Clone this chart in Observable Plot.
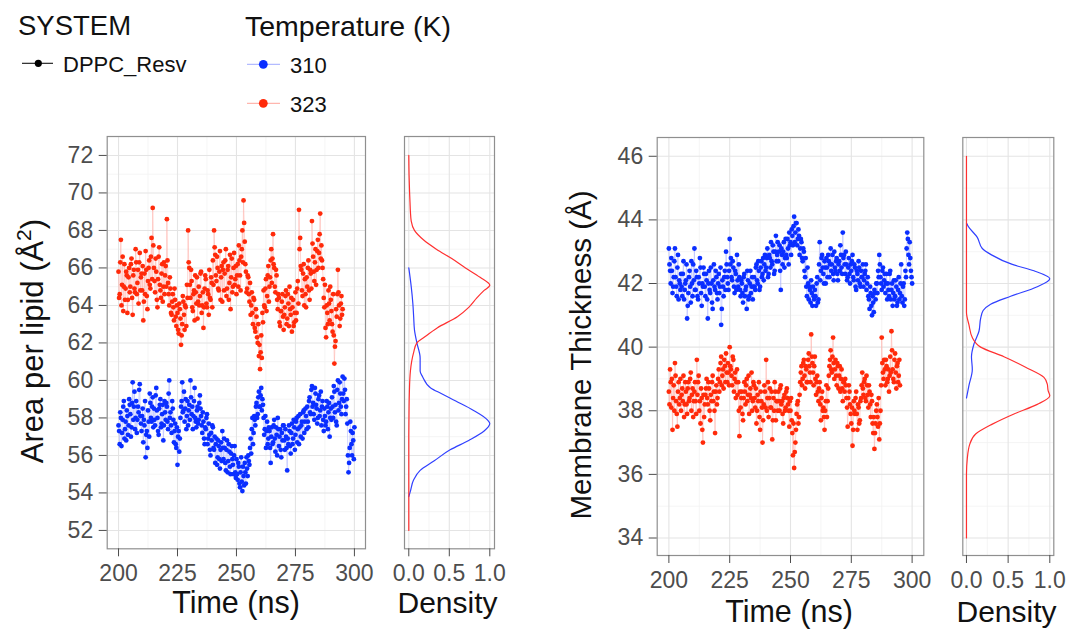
<!DOCTYPE html>
<html><head><meta charset="utf-8">
<script src="https://cdn.jsdelivr.net/npm/d3@7"></script>
<script src="https://cdn.jsdelivr.net/npm/@observablehq/plot@0.6"></script>
<style>
body{margin:0;background:#fff;font-family:"Liberation Sans",Arial,sans-serif;}
#root{position:relative;width:1067px;height:629px;overflow:hidden;background:#fff;}
</style></head><body><div id="root"></div>
<script>
// ---------- data ----------
const temps = ["310", "323"];
const systemName = "DPPC_Resv";
const timeStart = 200;     // first sample (ns)
const timeStep = 0.5;      // spacing within one array (ns)
const timeOffsetB = 0.25;  // the "b" arrays hold the samples in between

// Area per lipid, 310 K
const apl310 = [
57.6,56.6,58.0,57.2,58.6,56.9,57.8,58.4,57.1,59.0,
58.2,57.5,59.9,58.6,57.4,58.9,57.9,58.3,59.8,57.7,
58.1,56.7,57.6,55.9,57.3,58.4,57.0,58.8,57.8,59.1,
58.5,57.6,59.6,58.0,57.1,58.7,57.5,58.2,56.8,58.9,
57.9,58.6,57.4,60.0,58.3,57.2,58.5,56.7,57.7,56.4,
55.5,57.3,56.9,58.6,59.9,58.4,57.8,59.0,58.1,57.6,
58.7,60.0,58.2,57.4,58.9,58.0,57.5,58.6,57.9,59.2,
58.1,57.2,57.8,56.6,57.4,58.2,56.9,57.1,56.0,56.8,
57.5,56.3,55.6,56.9,55.9,56.5,55.3,56.7,57.3,55.8,
56.4,55.2,56.8,55.7,56.2,55.0,56.5,55.5,56.0,55.1,
55.8,54.7,55.4,54.3,55.9,54.1,54.9,55.6,54.5,55.3,
56.0,55.5,56.9,57.4,56.6,58.1,57.6,58.8,58.2,59.4,
58.6,59.6,59.0,58.0,57.4,56.4,57.8,56.9,57.3,55.6,
57.5,56.7,57.9,56.2,57.1,58.0,56.5,57.4,55.9,56.8,
57.6,56.3,57.0,55.2,56.6,57.3,56.1,57.7,56.9,57.5,
57.1,58.0,57.4,56.6,58.2,57.6,56.9,58.4,57.8,58.1,
58.6,57.5,59.1,58.2,59.7,58.8,57.9,59.3,58.5,58.0,
59.2,58.4,57.6,58.9,57.3,58.1,57.8,58.6,58.3,57.0,
58.5,59.1,58.0,59.4,58.7,57.6,60.0,58.8,59.3,58.2,
60.2,58.9,59.5,58.6,57.7,55.1,56.4,57.3,56.0,56.8,57.5
];
const apl310b = [
57.3,58.3,56.5,57.9,58.9,57.4,56.8,58.1,57.6,58.7,
57.0,58.8,57.9,59.4,58.0,57.2,58.6,59.5,58.1,57.3,
58.5,57.9,58.9,57.1,56.4,57.8,59.3,58.0,58.6,57.5,
57.9,59.2,58.4,57.3,58.5,59.0,57.7,58.7,57.6,58.3,
58.8,57.8,59.3,58.0,57.6,58.9,57.9,57.3,56.6,57.5,
57.0,56.2,58.0,58.9,58.3,59.4,58.5,57.4,58.9,58.4,
57.9,59.1,58.6,58.1,59.6,57.8,58.4,57.7,58.8,58.5,
57.6,58.3,56.9,57.5,58.0,56.6,57.7,56.3,57.2,57.6,
56.4,57.0,56.6,55.5,56.8,55.8,56.3,55.7,56.4,56.9,
55.6,56.3,55.1,56.6,55.4,56.1,55.8,55.0,56.5,54.8,
55.0,55.6,54.5,55.1,54.6,55.4,54.4,55.1,55.9,54.9,
55.7,56.4,56.1,58.0,57.2,57.9,58.6,58.0,59.1,58.6,
59.2,58.4,58.7,57.1,58.1,57.3,56.6,57.5,56.4,57.0,
56.6,57.6,56.9,57.5,56.0,57.4,57.0,56.3,57.2,57.6,
56.8,57.4,56.4,56.9,57.6,56.5,57.2,56.6,57.9,56.3,
57.8,56.7,58.1,57.5,57.0,57.8,58.3,57.2,58.5,57.4,
57.8,58.9,58.3,59.5,58.6,58.2,59.6,58.7,57.7,59.0,
58.1,59.4,58.6,57.9,58.5,57.6,58.9,57.4,58.8,58.0,
57.9,58.6,59.7,58.3,57.8,59.5,58.4,59.9,58.6,59.0,
59.3,60.1,58.2,59.0,56.0,55.6,57.8,56.6,57.2,55.8
];
// Area per lipid, 323 K
const apl323 = [
65.8,64.6,67.5,65.1,63.7,66.2,64.9,65.6,64.3,66.0,
65.0,66.5,63.5,65.9,64.7,66.3,65.2,64.1,66.8,65.5,
64.8,63.2,65.7,66.9,64.5,65.3,66.4,64.9,67.6,69.2,
66.0,64.7,65.8,63.9,66.6,65.1,64.4,66.2,65.0,64.6,
66.1,68.6,65.2,64.0,64.9,63.5,64.6,63.2,64.3,62.9,
63.6,62.5,63.8,61.9,63.0,64.2,62.7,63.9,65.1,68.0,
66.0,64.4,65.3,63.7,64.8,65.6,64.1,63.3,65.0,64.5,
65.8,64.0,62.8,64.9,65.4,63.9,64.6,65.9,64.3,65.2,
66.4,68.0,66.7,65.3,66.0,64.8,66.9,65.5,64.2,66.3,
65.7,67.0,64.9,66.1,65.2,63.8,66.5,65.0,66.8,65.4,
64.6,66.2,67.2,65.6,66.6,68.0,69.6,67.4,65.8,64.9,
65.5,64.2,63.5,64.7,63.0,64.3,62.6,63.4,62.0,61.3,
60.6,62.4,63.6,64.8,63.9,65.4,64.5,66.1,65.0,66.4,
65.2,67.8,66.0,64.7,65.6,63.8,64.4,62.9,63.7,64.6,
62.7,63.9,64.8,63.3,64.1,65.0,63.5,62.6,64.3,63.1,
64.7,63.6,65.3,69.1,67.6,65.9,64.5,66.2,65.4,63.9,
65.0,66.4,64.3,65.7,68.5,66.6,65.3,67.0,65.9,67.5,
66.8,68.9,67.2,66.0,64.4,65.1,62.3,63.6,64.8,63.2,
64.3,63.0,64.6,60.9,62.1,63.4,65.9,64.0,63.3,64.5,63.8
];
const apl323b = [
64.4,66.3,64.0,66.6,65.0,64.3,65.8,63.6,65.5,64.7,
66.2,64.4,65.6,64.9,67.0,64.6,65.9,66.3,64.8,65.7,
66.1,64.2,64.6,65.9,63.8,66.0,65.1,66.6,65.4,67.2,
65.3,66.5,64.3,65.4,67.1,64.8,65.7,64.2,66.3,65.6,
65.0,66.4,64.6,65.5,63.6,64.2,63.9,64.9,63.4,64.0,
62.7,64.1,63.3,62.4,64.5,63.5,64.0,62.9,64.4,66.3,
65.1,65.9,63.9,64.6,63.2,64.7,65.5,64.2,64.0,65.7,
63.6,64.7,63.9,65.6,64.1,64.8,63.5,64.4,65.5,63.9,
65.1,67.1,65.6,66.6,64.9,65.8,64.3,66.1,65.9,64.8,
66.4,64.5,65.9,64.3,66.7,65.5,64.7,66.0,65.1,66.1,
65.6,65.0,66.4,64.8,67.0,66.3,68.4,66.2,64.7,65.6,
64.6,65.2,64.0,63.6,64.4,62.8,63.8,62.3,63.0,61.9,
61.5,61.2,63.1,64.0,64.9,63.7,65.6,64.2,65.5,67.0,
66.5,66.2,65.0,65.9,64.3,64.6,63.1,63.7,64.2,63.4,
63.5,64.5,63.0,64.6,62.9,63.8,64.4,63.9,62.9,63.6,
63.2,64.9,64.1,67.0,66.1,64.8,65.7,64.0,64.6,65.5,
66.0,64.8,65.9,64.9,67.3,65.8,66.3,65.1,66.9,66.0,
67.8,66.5,66.4,65.4,63.9,62.8,64.0,63.0,64.1,65.0,
63.7,62.6,62.4,61.8,63.8,64.6,64.7,62.9,64.1,63.5
];
// Membrane thickness, 310 K
const thick310 = [
43.1,42.4,42.8,41.7,42.2,43.1,41.9,42.5,41.5,42.0,
42.3,41.6,42.7,41.8,42.1,40.9,41.7,42.4,41.4,42.0,
42.6,43.1,41.8,42.2,41.5,42.0,42.5,41.3,41.9,42.3,
41.6,42.1,40.9,42.4,41.7,42.0,41.2,42.6,41.8,42.2,
41.5,42.3,41.9,40.7,42.1,41.6,42.4,43.0,42.2,41.8,
43.4,42.8,42.1,42.5,41.7,42.3,42.9,41.9,42.2,41.6,
42.0,41.4,42.3,41.8,41.2,42.1,41.6,42.4,41.9,41.5,
42.2,41.8,42.6,42.0,42.4,41.9,42.7,42.3,42.1,42.9,
42.5,43.1,42.3,42.8,43.3,42.6,43.0,42.4,43.5,42.9,
42.7,43.2,41.8,42.9,43.0,42.5,43.4,42.8,43.1,43.6,
43.3,43.7,43.2,44.1,43.6,43.9,43.4,43.5,43.1,43.3,
42.7,43.0,42.2,41.9,42.5,41.5,41.8,42.1,41.3,41.6,
41.8,41.3,42.2,41.5,43.3,42.4,42.9,42.3,42.7,42.0,
42.5,42.9,42.2,43.1,42.6,42.3,43.0,42.4,42.8,42.1,
42.7,43.2,42.5,43.6,42.9,42.3,42.6,42.2,42.8,42.0,
42.4,42.9,42.1,42.5,41.8,42.3,42.7,42.0,42.4,42.2,
41.9,42.3,42.6,42.0,41.6,41.2,41.7,41.0,41.4,41.8,
41.5,42.0,42.4,42.9,42.2,41.8,42.5,42.1,41.7,42.3,
42.0,41.6,42.4,41.8,41.3,42.1,41.6,41.9,41.4,42.2,
41.7,42.6,41.4,42.0,41.5,42.2,43.6,42.9,43.3,42.4,42.0
];
const thick310b = [
42.6,42.0,42.4,41.9,42.7,42.2,41.6,42.9,42.1,41.8,
41.9,42.3,41.5,42.0,42.6,41.3,42.2,41.9,42.7,41.6,
42.1,41.8,42.4,41.6,42.2,42.8,41.7,42.0,42.5,41.9,
42.3,41.5,42.0,41.8,42.5,41.4,42.1,41.9,42.4,41.7,
42.0,41.7,42.5,41.2,41.9,42.2,41.8,42.6,42.0,42.4,
42.6,42.2,42.7,41.9,42.4,41.8,42.1,42.6,41.8,42.1,
41.7,42.2,41.6,41.9,42.4,41.5,42.0,41.7,42.2,41.9,
41.9,42.5,42.1,42.7,41.8,42.5,42.2,42.8,42.6,42.4,
42.8,42.2,42.9,42.5,42.7,43.2,42.3,43.0,42.7,43.3,
43.0,42.4,43.1,42.6,43.3,42.8,42.9,43.4,42.6,43.2,
42.9,43.5,43.8,43.3,43.9,43.2,43.7,42.9,43.4,42.8,
43.1,42.4,42.8,41.6,42.0,41.9,41.4,41.7,41.9,41.5,
41.6,42.0,41.4,42.6,42.1,42.8,42.5,42.0,42.5,42.8,
42.2,42.7,42.6,42.4,42.9,42.1,42.5,42.7,42.3,42.6,
42.4,42.9,42.3,42.8,42.6,43.0,42.1,42.5,42.3,42.6,
42.7,42.2,42.6,41.9,42.4,42.1,42.5,41.9,42.2,42.6,
42.1,42.4,41.8,42.2,41.5,41.9,41.3,41.6,41.1,41.7,
42.0,41.7,42.2,42.6,42.0,42.4,41.9,42.3,42.0,41.5,
41.8,42.3,41.5,42.0,41.7,41.5,42.1,41.3,41.8,41.5,
42.0,41.6,41.9,41.3,42.4,43.1,43.4,42.6,42.8,42.2
];
// Membrane thickness, 323 K
const thick323 = [
38.6,39.3,38.1,37.4,38.8,39.5,38.3,37.5,38.9,38.4,
38.0,38.7,39.1,38.2,38.6,37.9,38.9,38.4,39.2,38.5,
37.8,38.6,38.3,39.6,38.9,38.0,37.6,38.4,37.0,37.8,
38.5,39.0,38.2,38.7,37.7,38.3,39.1,38.6,37.3,38.8,
38.4,39.3,38.9,39.7,39.1,38.7,39.4,39.8,38.9,39.2,
40.0,39.3,38.8,39.6,39.0,38.4,39.3,38.9,37.2,38.1,
38.6,37.7,38.9,38.2,39.0,38.5,37.9,38.7,39.2,38.3,
38.8,38.1,37.6,38.5,38.9,37.4,38.3,37.0,38.2,38.6,
39.6,38.4,37.8,38.7,38.1,37.1,38.4,38.9,37.7,38.3,
38.6,38.0,38.8,38.3,37.6,38.5,38.1,38.7,38.2,37.5,
38.0,37.7,36.6,36.2,37.0,37.9,38.3,37.8,38.9,39.4,
39.0,39.6,38.7,39.3,38.9,39.8,39.2,40.4,39.5,38.8,
39.7,38.5,39.1,38.3,38.9,37.7,38.6,38.1,37.4,38.3,
37.8,38.7,39.4,39.9,39.2,40.3,39.0,39.6,38.8,39.4,
39.1,38.6,39.3,38.3,38.9,39.0,38.4,37.5,38.8,38.2,
37.6,36.9,38.3,37.9,38.6,37.4,38.1,37.7,38.4,39.2,
38.5,39.0,38.3,38.8,38.1,38.6,37.8,38.3,37.3,36.8,
37.6,38.2,37.5,37.1,38.0,40.3,39.2,39.6,38.8,39.4,
39.0,38.6,39.7,40.5,39.3,38.9,39.8,38.7,39.5,39.1,38.8
];
const thick323b = [
38.2,38.9,39.0,38.4,38.0,39.1,37.9,38.6,38.2,39.0,
38.5,38.3,37.8,38.9,38.2,38.7,38.3,39.0,38.0,38.7,
38.3,38.9,37.9,38.5,39.1,38.3,38.7,37.4,38.5,38.2,
38.7,38.4,38.9,38.0,38.5,38.9,38.3,38.0,38.6,38.2,
39.0,38.6,39.5,38.8,39.3,39.6,38.9,39.2,39.5,38.8,
39.4,39.1,39.7,38.6,39.2,38.9,38.5,38.0,38.6,38.4,
37.9,38.4,38.6,38.8,38.3,39.1,38.5,38.4,38.0,38.9,
38.4,38.7,38.0,38.3,37.8,38.6,38.1,37.7,38.8,38.1,
38.0,38.9,38.4,38.1,38.6,37.7,38.0,38.6,38.3,38.0,
38.3,38.7,38.2,37.9,38.4,38.0,38.6,38.4,38.0,38.3,
38.4,37.3,37.6,36.7,37.4,38.2,37.6,38.5,39.2,38.8,
39.5,39.1,39.4,38.9,39.6,39.4,38.9,39.7,39.2,39.4,
39.0,38.9,38.6,38.7,38.2,38.4,38.0,37.8,38.0,38.8,
38.3,39.1,39.6,39.3,39.7,39.5,39.3,39.1,39.5,38.7,
39.4,39.0,38.7,38.9,38.6,38.8,38.1,38.4,38.6,37.9,
38.1,37.4,38.0,38.4,37.9,38.2,37.6,38.3,38.8,38.7,
38.9,38.4,39.1,38.5,38.8,38.2,38.5,37.6,37.8,37.3,
38.0,37.8,38.4,37.6,38.8,39.5,39.0,39.3,39.6,38.9,
39.3,39.1,39.2,39.9,39.0,39.6,39.2,39.4,38.9,39.6
];

// scaled densities (max = 1)
const aplDens310Y = [53.8,54.1,54.7,55.2,55.7,56.3,56.8,57.3,57.7,57.9,58.4,58.9,59.3,59.6,60.2,60.5,61.2,62.0,62.7,63.4,64.1,65.0,66.0];
const aplDens310  = [0,0.02,0.06,0.14,0.31,0.51,0.74,0.93,1.0,0.97,0.8,0.58,0.4,0.27,0.17,0.14,0.14,0.1,0.07,0.06,0.05,0.03,0];
const aplDens323Y = [52,53,54,55,56,57,58,59,59.5,60,60.5,61,61.5,62,62.3,62.8,63.4,63.9,64.4,64.8,65.07,65.5,66,66.5,67,67.5,68,68.5,69,69.5,70,71,72];
const aplDens323  = [0,0,0,0,0,0,0.002,0.005,0.008,0.012,0.02,0.035,0.06,0.1,0.19,0.35,0.6,0.74,0.84,0.93,1.0,0.88,0.7,0.53,0.34,0.18,0.07,0.03,0.02,0.015,0.01,0.003,0];
const thickDens310Y = [38.4,38.8,39.3,39.7,40.1,40.5,40.9,41.15,41.35,41.6,41.9,42.15,42.4,42.6,42.9,43.1,43.45,43.8,43.9];
const thickDens310  = [0,0.03,0.07,0.06,0.09,0.15,0.17,0.2,0.29,0.53,0.85,1.0,0.81,0.55,0.3,0.19,0.13,0.02,0];
const thickDens323Y = [34,35,36,36.5,36.95,37.27,37.58,37.9,38.2,38.47,38.63,38.84,39.05,39.37,39.7,40.0,40.3,40.7,41.1,42,46];
const thickDens323  = [0,0,0,0.01,0.04,0.11,0.31,0.57,0.85,1.0,0.98,0.97,0.93,0.71,0.45,0.17,0.07,0.03,0,0,0];

// ticks
const timeTicks = [200,225,250,275,300];
const timeMinor = [212.5,237.5,262.5,287.5];
const aplTicks = [52,54,56,58,60,62,64,66,68,70,72];
const aplMinor = [53,55,57,59,61,63,65,67,69,71,73];
const thickTicks = [34,36,38,40,42,44,46];
const thickMinor = [35,37,39,41,43,45];
const densTicks = [0,0.5,1];
const densMinor = [0.25,0.75];

// ---------- styling ----------
const dotColor = {"310": "#0a2eff", "323": "#ff2a0a"};
const lineColor = {"310": "#b3bbff", "323": "#ffb6ae"};
const densColor = {"310": "#3040ff", "323": "#ff3030"};
const FONT = "Liberation Sans, Arial, sans-serif";
const root = document.getElementById("root");

function series(a, b, temp) {
  const rows = [
    ...a.map((v, i) => ({t: timeStart + i * timeStep, v, temp})),
    ...b.map((v, i) => ({t: timeStart + timeOffsetB + i * timeStep, v, temp}))
  ];
  return rows.sort((p, q) => p.t - q.t);
}
function dens(ys, ds, temp) {
  return ys.map((v, i) => ({v, d: ds[i], temp}));
}

function place(el, left, top) {
  el.style.position = "absolute";
  el.style.left = left + "px";
  el.style.top = top + "px";
  root.appendChild(el);
}

function gridMarks(xMajor, xMinor, yMajor, yMinor) {
  return [
    Plot.gridX(xMinor, {stroke: "#f3f3f3", strokeOpacity: 1, strokeWidth: 0.8}),
    Plot.gridY(yMinor, {stroke: "#f3f3f3", strokeOpacity: 1, strokeWidth: 0.8}),
    Plot.gridX(xMajor, {stroke: "#e4e4e4", strokeOpacity: 1, strokeWidth: 1.1}),
    Plot.gridY(yMajor, {stroke: "#e4e4e4", strokeOpacity: 1, strokeWidth: 1.1})
  ];
}

function tsPlot(s310, s323, yDomain, yTicks, yMinor, xDomain, dims) {
  const bySeries = {"310": s310, "323": s323};
  const marks = [...gridMarks(timeTicks, timeMinor, yTicks, yMinor)];
  for (const tp of temps) {
    marks.push(Plot.line(bySeries[tp], {x: "t", y: "v", stroke: lineColor[tp], strokeWidth: 0.6}));
  }
  for (const tp of temps) {
    marks.push(Plot.dot(bySeries[tp], {x: "t", y: "v", fill: dotColor[tp], r: 2.4, stroke: "none"}));
  }
  marks.push(Plot.frame({stroke: "#8f8f8f", strokeWidth: 1.2}));
  marks.push(Plot.axisX(timeTicks, {tickSize: 8, tickPadding: 8, fontSize: 23, fill: "#4d4d4d", stroke: "#4d4d4d", label: null}));
  marks.push(Plot.axisY(yTicks, {tickSize: 8, tickPadding: 6, fontSize: 23, fill: "#4d4d4d", stroke: "#4d4d4d", label: null}));
  return Plot.plot({
    width: dims.width, height: dims.height,
    marginLeft: dims.ml, marginRight: dims.mr, marginTop: dims.mt, marginBottom: dims.mb,
    x: {domain: xDomain}, y: {domain: yDomain},
    style: {background: "transparent", fontFamily: FONT, overflow: "visible"},
    marks
  });
}

function densPlot(d310, d323, yDomain, yTicks, yMinor, xDomain, dims) {
  const marks = [...gridMarks(densTicks, densMinor, yTicks, yMinor)];
  marks.push(Plot.line(d310, {x: "d", y: "v", stroke: densColor["310"], strokeWidth: 1.2, curve: "monotone-y"}));
  marks.push(Plot.line(d323, {x: "d", y: "v", stroke: densColor["323"], strokeWidth: 1.2, curve: "monotone-y"}));
  marks.push(Plot.frame({stroke: "#8f8f8f", strokeWidth: 1.2}));
  marks.push(Plot.axisX(densTicks, {tickSize: 8, tickPadding: 8, fontSize: 23, fill: "#4d4d4d", stroke: "#4d4d4d", label: null, tickFormat: d3.format(".1f")}));
  return Plot.plot({
    width: dims.width, height: dims.height,
    marginLeft: dims.ml, marginRight: dims.mr, marginTop: dims.mt, marginBottom: dims.mb,
    x: {domain: xDomain}, y: {domain: yDomain, axis: null},
    style: {background: "transparent", fontFamily: FONT, overflow: "visible"},
    marks
  });
}

// Area per lipid
place(tsPlot(series(apl310, apl310b, "310"), series(apl323, apl323b, "323"),
  [51.02, 73.01], aplTicks, aplMinor, [195.2, 304.7],
  {width: 330, height: 470, ml: 56.7, mr: 15, mt: 16, mb: 41.7}), 50, 120);
place(densPlot(dens(aplDens310Y, aplDens310, "310"), dens(aplDens323Y, aplDens323, "323"),
  [51.02, 73.01], aplTicks, aplMinor, [-0.053, 1.058],
  {width: 125, height: 470, ml: 19, mr: 16, mt: 16, mb: 41.7}), 385, 120);
// Membrane thickness
place(tsPlot(series(thick310, thick310b, "310"), series(thick323, thick323b, "323"),
  [33.45, 46.59], thickTicks, thickMinor, [195.2, 304.8],
  {width: 335, height: 470, ml: 56.7, mr: 11.7, mt: 17, mb: 35}), 600, 120);
place(densPlot(dens(thickDens310Y, thickDens310, "310"), dens(thickDens323Y, thickDens323, "323"),
  [33.45, 46.59], thickTicks, thickMinor, [-0.044, 1.048],
  {width: 127, height: 470, ml: 22.3, mr: 13.7, mt: 17, mb: 35}), 940, 120);

// ---------- titles & legend ----------
const svg = d3.select(root).append("svg")
  .attr("width", 1067).attr("height", 629)
  .style("position", "absolute").style("left", 0).style("top", 0)
  .style("font-family", FONT).style("pointer-events", "none");

const txt = (x, y, s, size, anchor = "start", fill = "#111") =>
  svg.append("text").attr("x", x).attr("y", y).attr("font-size", size)
    .attr("text-anchor", anchor).attr("fill", fill).text(s);

// axis titles
txt(236, 613, "Time (ns)", 30.5, "middle");
txt(447.5, 613, "Density", 30, "middle");
txt(789, 622, "Time (ns)", 30.5, "middle");
txt(1006.5, 622, "Density", 30, "middle");

const yl = svg.append("text").attr("transform", "translate(43,341) rotate(-90)")
  .attr("text-anchor", "middle").attr("font-size", 31).attr("fill", "#111");
yl.append("tspan").text("Area per lipid (Å");
yl.append("tspan").attr("dy", -12).attr("font-size", 21).text("2");
yl.append("tspan").attr("dy", 12).text(")");

svg.append("text").attr("transform", "translate(591,355) rotate(-90)")
  .attr("text-anchor", "middle").attr("font-size", 29.5).attr("fill", "#111")
  .text("Membrane Thickness (Å)");

// legend
txt(18, 35, "SYSTEM", 27.5);
txt(245, 36, "Temperature (K)", 28.5);
svg.append("line").attr("x1", 22).attr("x2", 53).attr("y1", 63.3).attr("y2", 63.3).attr("stroke", "#111").attr("stroke-width", 1.1);
svg.append("circle").attr("cx", 38.3).attr("cy", 63.3).attr("r", 3.6).attr("fill", "#000");
txt(63, 72, systemName, 22);

temps.forEach((tp, i) => {
  const cy = 64.3 + i * 39;
  svg.append("line").attr("x1", 247).attr("x2", 280).attr("y1", cy).attr("y2", cy).attr("stroke", lineColor[tp]).attr("stroke-width", 1.2);
  svg.append("circle").attr("cx", 263.3).attr("cy", cy).attr("r", 4.4).attr("fill", dotColor[tp]);
  txt(290, cy + 8.3, tp, 22);
});
</script></body></html>
